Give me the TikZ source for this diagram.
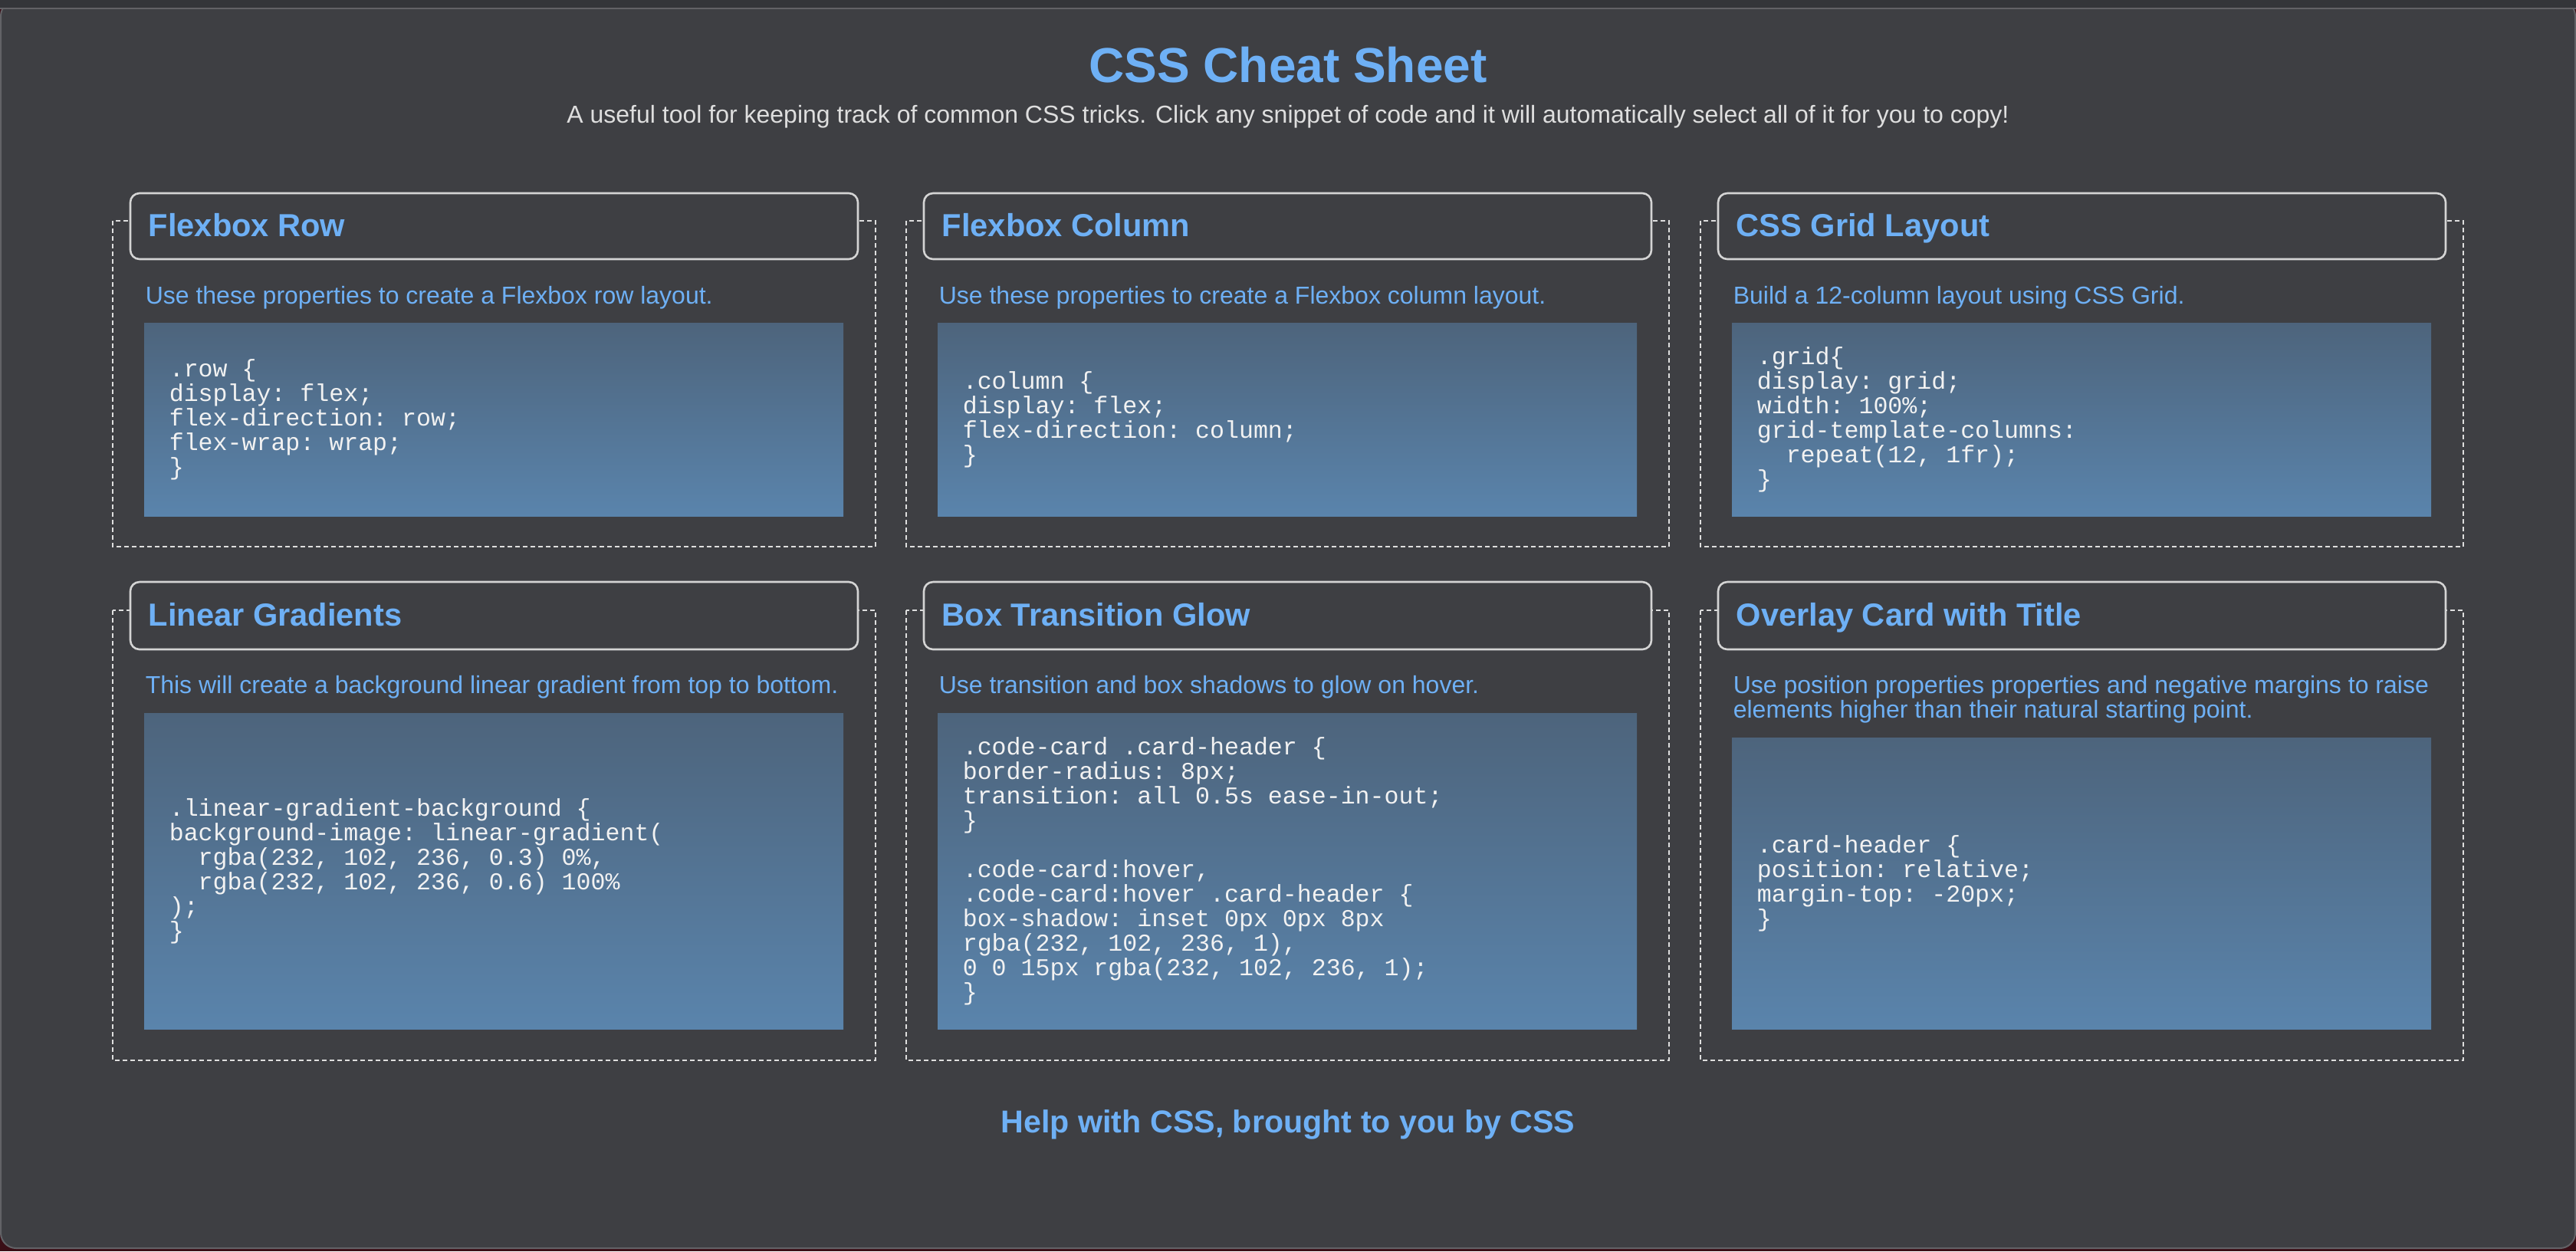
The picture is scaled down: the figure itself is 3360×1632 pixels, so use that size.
\documentclass[tikz,border=0pt]{standalone}
\usepackage{fontspec}
\setmainfont{Liberation Sans}
\setmonofont{Liberation Mono}

\definecolor{pagebg}{RGB}{58,14,22}
\definecolor{winbg}{RGB}{62,63,67}
\definecolor{topband}{RGB}{52,53,57}
\definecolor{winedge}{RGB}{98,98,102}
\definecolor{cssblue}{RGB}{110,176,245}
\definecolor{subgray}{RGB}{222,222,222}
\definecolor{headline}{RGB}{212,212,212}
\definecolor{dashgray}{RGB}{222,222,222}
\definecolor{codetop}{RGB}{77,100,124}
\definecolor{codebot}{RGB}{90,132,172}
\definecolor{codetext}{RGB}{242,242,242}

\newcommand\codefont{\ttfamily\fontsize{7.9}{8}\selectfont}

\tikzset{
  dashframe/.style={draw=dashgray,line width=0.5pt,dash pattern=on 1.5pt off 1pt},
  headbox/.style={draw=headline,fill=winbg,line width=0.65pt,rounded corners=3pt},
  codebox/.style={top color=codetop,bottom color=codebot},
  headtxt/.style={anchor=base west,inner sep=0pt,text=cssblue,font=\bfseries\fontsize{10.4}{12}\selectfont},
  desctxt/.style={anchor=base west,inner sep=0pt,text=cssblue,align=left,font=\fontsize{8}{8}\selectfont},
  codetxt/.style={anchor=west,inner sep=0pt,text=codetext,align=left,font=\codefont}
}

\begin{document}
\begin{tikzpicture}[x=0.25pt,y=-0.25pt]
	\useasboundingbox (0,0) rectangle (3360,1632);
	% window
	\fill[pagebg] (0,0) rectangle (3360,1632);
	\draw[winedge,fill=winbg,line width=0.5pt,rounded corners=5pt]
		(1,1) -- (1,1628) -- (3359,1628) -- (3359,1) -- cycle;
	\fill[topband] (0,0) rectangle (3360,10);
	\fill[winedge] (0,10) rectangle (3360,12);

	\node[anchor=base,inner sep=0pt,text=cssblue,font=\bfseries\fontsize{16}{19}\selectfont]
		(title) at (1680,107) {CSS Cheat Sheet};
	\node[anchor=base,inner sep=0pt,text=subgray,font=\fontsize{8}{8}\selectfont]
		(subtitle) at (1680,160) {A useful tool for keeping track of common CSS tricks. Click any snippet of code and it will automatically select all of it for you to copy!};

	% frames, headers and code boxes
	\foreach \c in {147,1182,2218}{
		\draw[dashframe] (\c,288) rectangle ++(995,425);
		\draw[headbox] (\c+23,252) rectangle ++(949,86);
		\shade[codebox] (\c+41,421) rectangle ++(912,252);
		\draw[dashframe] (\c,796) rectangle ++(995,587);
		\draw[headbox] (\c+23,759) rectangle ++(949,88);
	}
	\shade[codebox] (188,930) rectangle ++(912,412);
	\shade[codebox] (1223,930) rectangle ++(912,412);
	\shade[codebox] (2259,962) rectangle ++(912,380);

	% row 1
	\node[headtxt] (hrow) at (193,308) {Flexbox Row};
	\node[desctxt] (drow) at (189,396) {Use these properties to create a Flexbox row layout.};
	\node[codetxt] (crow) at (220,547) {.row \{\\display: flex;\\flex-direction: row;\\flex-wrap: wrap;\\\}};

	\node[headtxt] (hcol) at (1228,308) {Flexbox Column};
	\node[desctxt] (dcol) at (1224,396) {Use these properties to create a Flexbox column layout.};
	\node[codetxt] (ccol) at (1255,547) {.column \{\\display: flex;\\flex-direction: column;\\\}};

	\node[headtxt] (hgrid) at (2264,308) {CSS Grid Layout};
	\node[desctxt] (dgrid) at (2260,396) {Build a 12-column layout using CSS Grid.};
	\node[codetxt] (cgrid) at (2291,547) {.grid\{\\display: grid;\\width: 100\%;\\grid-template-columns:\\\hphantom{xx}repeat(12, 1fr);\\\}};

	% row 2
	\node[headtxt] (hgrad) at (193,816) {Linear Gradients};
	\node[desctxt] (dgrad) at (189,904) {This will create a background linear gradient from top to bottom.};
	\node[codetxt] (cgrad) at (220,1136) {.linear-gradient-background \{\\background-image: linear-gradient(\\\hphantom{xx}rgba(232, 102, 236, 0.3) 0\%,\\\hphantom{xx}rgba(232, 102, 236, 0.6) 100\%\\);\\\}};

	\node[headtxt] (hglow) at (1228,816) {Box Transition Glow};
	\node[desctxt] (dglow) at (1224,904) {Use transition and box shadows to glow on hover.};
	\node[codetxt] (cglow) at (1255,1136) {.code-card .card-header \{\\border-radius: 8px;\\transition: all 0.5s ease-in-out;\\\}\\\mbox{}\\.code-card:hover,\\.code-card:hover .card-header \{\\box-shadow: inset 0px 0px 8px\\rgba(232, 102, 236, 1),\\0 0 15px rgba(232, 102, 236, 1);\\\}};

	\node[headtxt] (hover) at (2264,816) {Overlay Card with Title};
	\node[desctxt] (dover) at (2260,936) {Use position properties properties and negative margins to raise\\elements higher than their natural starting point.};
	\node[codetxt] (cover) at (2291,1152) {.card-header \{\\position: relative;\\margin-top: -20px;\\\}};

	\node[anchor=base,inner sep=0pt,text=cssblue,font=\bfseries\fontsize{10.3}{12}\selectfont]
		(footer) at (1680,1477) {Help with CSS, brought to you by CSS};
\end{tikzpicture}
\end{document}
